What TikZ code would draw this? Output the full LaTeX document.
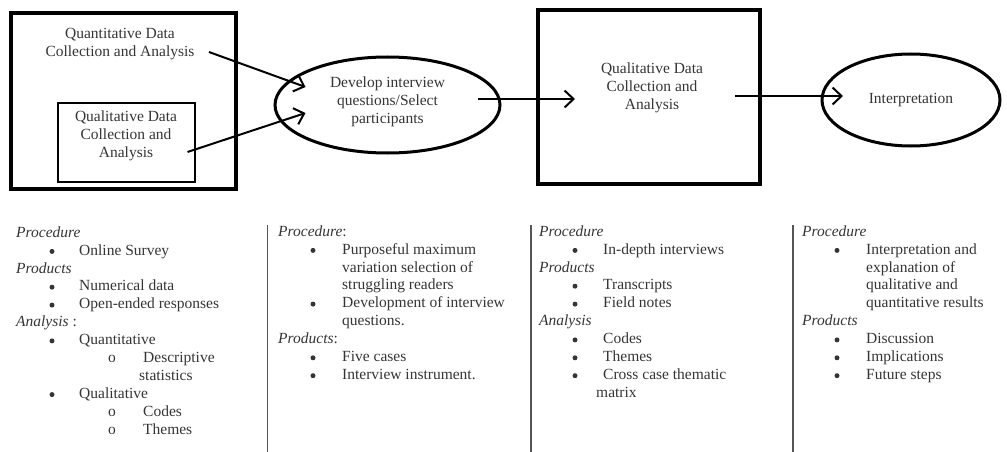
\documentclass[tikz,border=0pt]{standalone}
\usepackage{fontspec}
\setmainfont{Liberation Serif}
\usetikzlibrary{arrows.meta,shapes.geometric}
\definecolor{inkgray}{HTML}{353535}
\definecolor{rulegray}{HTML}{555555}
\newcommand{\bodysize}{\fontsize{15.5}{17.8}\selectfont}
\tikzset{
  bigbox/.style={draw, line width=3.4pt, inner sep=0pt},
  smallbox/.style={draw, line width=1.6pt, inner sep=0pt},
  oval/.style={draw, ellipse, line width=3pt, inner sep=0pt, text=inkgray, align=center, font=\bodysize},
  lbl/.style={text=inkgray, align=center, font=\bodysize},
  flow/.style={line width=2pt, -{Straight Barb[length=9pt,width=17pt,line width=2pt]}},
  head/.style={text=inkgray, anchor=mid west, inner sep=0pt, font=\bodysize\itshape},
  item/.style={text=inkgray, anchor=mid west, inner sep=0pt, font=\bodysize},
  dot/.style={circle, fill=inkgray, inner sep=0pt, minimum size=5pt, yshift=1.5pt},
  ring/.style={text=inkgray, inner sep=0pt, anchor=mid, font=\bodysize},
  colrule/.style={draw=rulegray, line width=1.7pt}
}
\begin{document}
\begin{tikzpicture}[x=1pt, y=-1pt]
\useasboundingbox (0,0) rectangle (1007,452);
% top row
\node[bigbox, minimum width=225, minimum height=176] (quantbox) at (123.5,101) {};
\node[smallbox, minimum width=137, minimum height=79] (qualbox) at (126.5,142.5) {};
\node[lbl] (quanttxt) at (120,44) {Quantitative Data\\Collection and Analysis};
\node[lbl] (qualtxt) at (126,136) {Qualitative Data\\Collection and\\Analysis};
\node[oval, minimum width=225, minimum height=96] (develop) at (387.5,105) {Develop interview\\questions/Select\\participants\\[-8pt]};
\node[bigbox, minimum width=222, minimum height=174] (qualbox2) at (649,97) {};
\node[lbl] (qualtxt2) at (652,88) {Qualitative Data\\Collection and\\Analysis};
\node[oval, minimum width=178, minimum height=92] (interp) at (911,100) {Interpretation};
\draw[flow] ([shift={(11,8)}]quanttxt.east) -- ([shift={(-82,-18)}]develop.center);
\draw[flow] ([shift={(7,16)}]qualtxt.east) -- ([shift={(-82,8)}]develop.center);
\draw[flow] ([shift={(90,-6)}]develop.center) -- ([shift={(-74,2)}]qualbox2.center);
\draw[flow] ([shift={(86,-1)}]qualbox2.center) -- ([shift={(-68,-4)}]interp.center);
% column rules
\foreach \x in {267.5, 531, 793} {\draw[colrule] (\x,225) -- (\x,452);}
% column 1
\foreach \r/\t in {0/Procedure, 2/Products, 5/{Analysis\upshape\ :}} {\node[head] (c1h\r) at (16,{235+17.9*\r}) {\t};}
\foreach \r in {1,3,4,6,9} {\node[dot] (c1b\r) at (52,{235+17.9*\r}) {};}
\foreach \r/\t in {1/Online Survey, 3/Numerical data, 4/Open-ended responses, 6/Quantitative, 9/Qualitative} {\node[item] (c1i\r) at (79,{235+17.9*\r}) {\t};}
\foreach \r in {7,10,11} {\node[ring] (c1o\r) at (112,{235+17.9*\r}) {o};}
\foreach \r/\x/\t in {7/143/Descriptive, 8/139/statistics, 10/143/Codes, 11/143/Themes} {\node[item] (c1s\r) at (\x,{235+17.9*\r}) {\t};}
% column 2
\foreach \r/\t in {0/{Procedure\upshape:}, 6/{Products\upshape:}} {\node[head] (c2h\r) at (278,{234+17.9*\r}) {\t};}
\foreach \r in {1,4,7,8} {\node[dot] (c2b\r) at (313,{234+17.9*\r}) {};}
\foreach \r/\t in {1/Purposeful maximum, 2/variation selection of, 3/struggling readers, 4/Development of interview, 5/questions., 7/Five cases, 8/Interview instrument.} {\node[item] (c2i\r) at (342,{234+17.9*\r}) {\t};}
% column 3
\foreach \r/\t in {0/Procedure, 2/Products, 5/Analysis} {\node[head] (c3h\r) at (539,{234+17.9*\r}) {\t};}
\foreach \r in {1,3,4,6,7,8} {\node[dot] (c3b\r) at (575,{234+17.9*\r}) {};}
\foreach \r/\x/\t in {1/603/In-depth interviews, 3/603/Transcripts, 4/603/Field notes, 6/603/Codes, 7/603/Themes, 8/603/Cross case thematic, 9/596/matrix} {\node[item] (c3i\r) at (\x,{234+17.9*\r}) {\t};}
% column 4
\foreach \r/\t in {0/Procedure, 5/Products} {\node[head] (c4h\r) at (802,{234+17.9*\r}) {\t};}
\foreach \r in {1,6,7,8} {\node[dot] (c4b\r) at (837,{234+17.9*\r}) {};}
\foreach \r/\t in {1/Interpretation and, 2/explanation of, 3/qualitative and, 4/quantitative results, 6/Discussion, 7/Implications, 8/Future steps} {\node[item] (c4i\r) at (866,{234+17.9*\r}) {\t};}
\end{tikzpicture}
\end{document}
